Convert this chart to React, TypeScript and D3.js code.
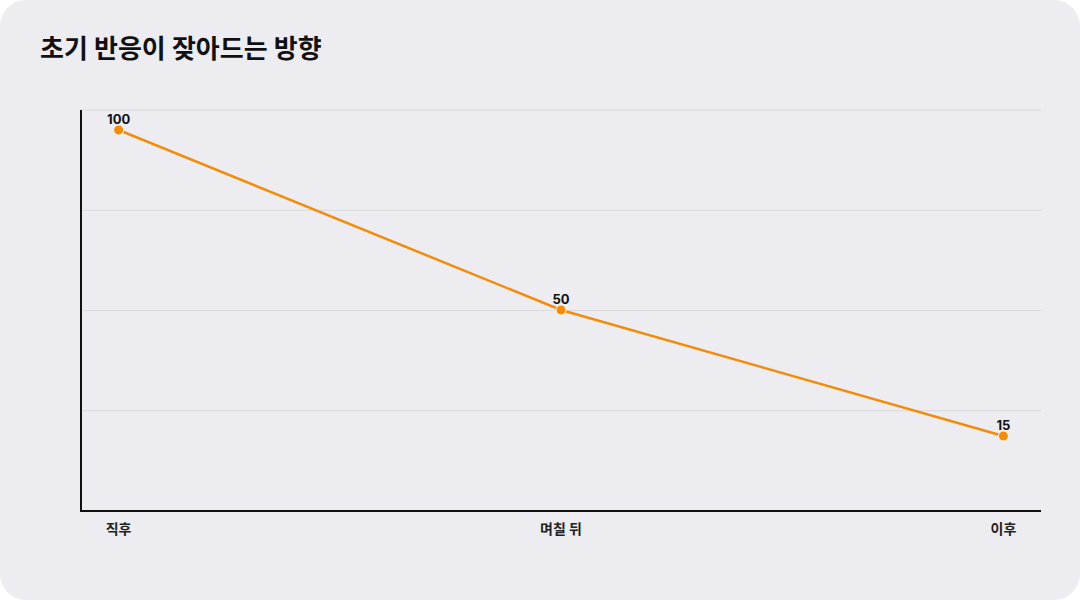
import React from 'react';
import * as d3 from 'd3';

const categories = ['직후', '며칠 뒤', '이후'];
const values = [100, 50, 15];
const title = '초기 반응이 잦아드는 방향';

const W = 1080;
const H = 600;
const FONT = 'Inter, "Noto Sans CJK KR", "Noto Sans", sans-serif';
const ORANGE = '#f28c0a';

const App: React.FC = () => {
  // plot area
  const left = 81;
  const right = 1041;
  const top = 110;
  const bottom = 511;

  const x = d3.scalePoint<string>()
    .domain(categories)
    .range([left, right])
    .padding(0.085);

  // value 0 sits a bit above the axis, value 100 a bit below the top
  const y = d3.scaleLinear()
    .domain([0, 100])
    .range([490, 130]);

  const gridLines = d3.range(5).map(i => top + ((bottom - top) / 4) * i);

  const line = d3.line<number>()
    .x((_, i) => x(categories[i]) as number)
    .y(d => y(d));

  return (
    <div style={{ position: 'absolute', left: 0, top: 0 }}>
      <svg width={W} height={H} style={{ display: 'block', background: '#fff' }} fontFamily={FONT}>
        <rect x={0} y={0} width={W} height={H} rx={26} fill="#edecf1" />

        <text x={40} y={58} fontSize={26} fontWeight={700} fill="#111">
          {title}
        </text>

        {/* grid lines */}
        {gridLines.map((gy, i) => (
          <line key={i} x1={left} x2={right} y1={gy} y2={gy} stroke="#d9d8dd" strokeWidth={1} />
        ))}

        {/* axes */}
        <line x1={left} x2={left} y1={top} y2={bottom} stroke="#111" strokeWidth={2} />
        <line x1={left - 1} x2={right} y1={bottom} y2={bottom} stroke="#111" strokeWidth={2} />

        {/* x labels */}
        {categories.map(c => (
          <text key={c} x={x(c)} y={534} textAnchor="middle" fontSize={14} fontWeight={700} fill="#222">
            {c}
          </text>
        ))}

        {/* series */}
        <path d={line(values) || ''} fill="none" stroke={ORANGE} strokeWidth={2.5} />
        {values.map((v, i) => (
          <g key={i}>
            <circle cx={x(categories[i])} cy={y(v)} r={5} fill={ORANGE} stroke="#fff6e0" strokeWidth={1} />
            <text x={x(categories[i])} y={y(v) - 6} textAnchor="middle" fontSize={13} fontWeight={700} fill="#111">
              {v}
            </text>
          </g>
        ))}
      </svg>
    </div>
  );
};

export default App;
